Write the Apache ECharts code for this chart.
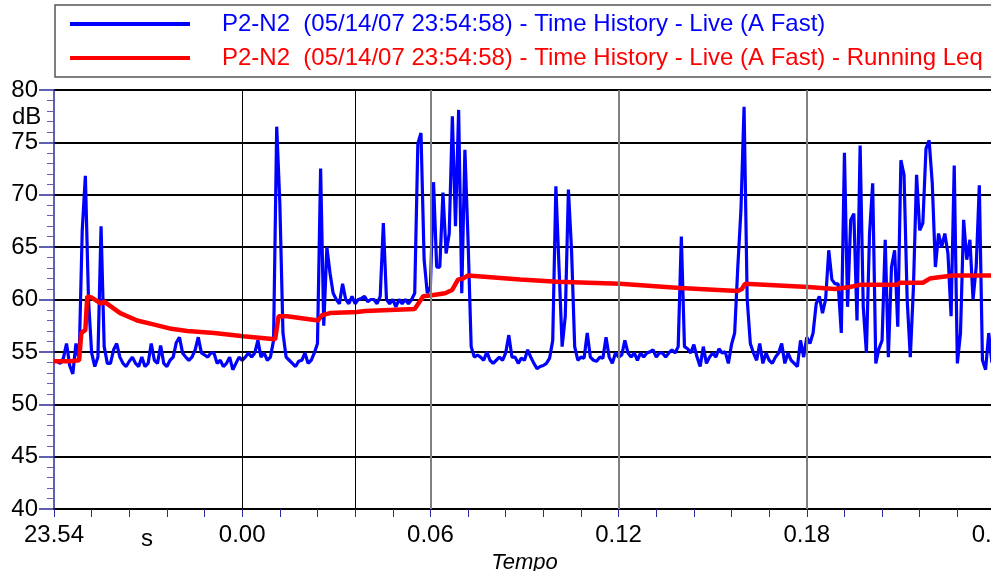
<!DOCTYPE html>
<html><head><meta charset="utf-8">
<script src="https://cdn.jsdelivr.net/npm/echarts@6/dist/echarts.min.js"></script>
<style>html,body{margin:0;padding:0;background:#fff}#c{width:991px;height:571px}</style>
</head><body><div id="c"></div>
<script>
const seriesNames = [
  'P2-N2  (05/14/07 23:54:58) - Time History - Live (A Fast)',
  'P2-N2  (05/14/07 23:54:58) - Time History - Live (A Fast) - Running Leq'
];
// Time axis is kept in milliseconds (labels shown in seconds)
// Live (A Fast) level, one sample every 1 ms starting at -60 ms
const sampleStartMs = -60;
const sampleStepMs = 1;
const liveLevels = [
  54.2, 54.1, 53.9, 54.4, 55.8, 53.7, 52.9, 55.8, 54.2, 66.6,
  71.8, 60.0, 54.9, 53.6, 54.5, 67.0, 55.5, 53.9, 53.9, 55.2,
  55.8, 54.5, 53.9, 53.6, 54.1, 54.5, 53.9, 53.6, 54.5, 53.6,
  53.9, 55.8, 54.2, 53.9, 55.6, 53.9, 53.6, 54.2, 54.5, 55.9,
  56.4, 54.9, 54.5, 54.2, 54.5, 55.2, 56.4, 54.9, 54.7, 54.5,
  54.9, 54.9, 53.9, 54.2, 53.6, 53.9, 54.5, 53.3, 53.9, 54.5,
  54.2, 54.5, 54.9, 54.5, 54.9, 56.1, 54.5, 54.9, 54.2, 54.5,
  56.1, 76.5, 69.2, 56.8, 54.5, 54.2, 53.9, 53.6, 54.1, 54.2,
  54.9, 53.9, 54.2, 54.9, 55.8, 72.5, 57.5, 65.0, 62.5, 60.6,
  60.0, 59.6, 61.5, 60.0, 59.6, 60.3, 59.6, 60.0, 60.1, 60.3,
  59.8, 60.0, 60.0, 59.6, 60.3, 67.3, 60.0, 59.6, 60.0, 59.3,
  60.0, 59.6, 60.0, 59.6, 60.0, 60.6, 74.9, 75.9, 63.8, 60.6,
  61.2, 71.2, 63.1, 63.1, 70.2, 64.4, 66.3, 77.5, 67.0, 78.1,
  60.6, 74.3, 65.7, 55.5, 54.5, 54.7, 54.5, 54.2, 55.0, 54.2,
  53.9, 54.2, 54.5, 54.2, 54.9, 56.6, 54.5, 54.5, 53.9, 54.4,
  54.2, 55.2, 54.5, 53.9, 53.4, 53.6, 53.7, 53.9, 54.4, 56.1,
  70.8, 63.1, 55.5, 58.4, 70.5, 64.7, 55.5, 54.2, 54.5, 54.4,
  56.8, 54.5, 54.2, 54.1, 54.5, 54.4, 56.4, 54.5, 53.9, 54.9,
  54.5, 54.7, 56.1, 54.9, 54.5, 54.9, 54.2, 54.9, 54.5, 54.9,
  55.0, 55.2, 54.5, 54.9, 54.9, 54.5, 54.9, 55.2, 54.9, 55.5,
  66.0, 55.5, 55.3, 54.9, 55.7, 54.5, 53.6, 55.5, 53.9, 54.5,
  54.9, 54.5, 55.3, 54.9, 55.0, 53.9, 55.7, 56.8, 63.1, 68.5,
  78.4, 60.0, 55.8, 54.9, 54.2, 55.8, 53.9, 54.9, 54.2, 53.9,
  54.5, 54.9, 55.8, 53.9, 54.9, 54.2, 53.9, 53.6, 56.1, 54.5,
  56.4, 55.8, 56.8, 59.6, 60.3, 58.7, 60.0, 64.7, 61.9, 61.5,
  61.5, 56.8, 74.0, 59.3, 67.6, 68.2, 58.0, 74.7, 59.3, 54.9,
  66.3, 71.1, 53.9, 55.3, 56.1, 65.7, 54.5, 63.1, 64.7, 57.4,
  73.3, 71.9, 60.0, 54.5, 61.2, 71.9, 66.6, 67.3, 74.4, 75.2,
  71.1, 63.1, 66.3, 65.0, 66.3, 64.4, 58.4, 72.8, 53.9, 56.8,
  67.6, 63.8, 65.7, 60.0, 63.1, 70.9, 54.2, 53.3, 56.8, 54.0,
  54.0
];
// Running Leq breakpoints (ms, dB)
const leqTimesMs = [
  -60, -54.8, -52, -51.3, -50, -49.4, -48.1, -45, -44, -38.9,
  -33.5, -28, -22.6, -17.5, -8.9, 0.3, 10.5, 11.6, 14.3, 24.2,
  25.4, 28.0, 36.6, 39.2, 55, 56.1, 57.7, 60.5, 64.7, 66.9,
  68.8, 70.4, 72, 88.6, 100.4, 120.4, 139.6, 158, 159.3, 160.3,
  180.4, 189, 193.7, 196.9, 208.7, 209.7, 217, 219.2, 221.5, 226.6, 240
];
const leqLevels = [
  54.1, 54.1, 54.2, 56.8, 57.1, 60.3, 60.2, 59.6, 59.8, 58.7,
  58.0, 57.6, 57.2, 57.0, 56.8, 56.5, 56.2, 58.4, 58.4, 58.0,
  58.5, 58.7, 58.8, 58.9, 59.1, 59.6, 60.3, 60.4, 60.6, 60.9,
  61.9, 62.0, 62.3, 61.9, 61.7, 61.5, 61.1, 60.8, 61.0, 61.5,
  61.2, 61.0, 61.2, 61.4, 61.4, 61.6, 61.6, 62.0, 62.1, 62.3, 62.3
];
const xTickLabels = { '-60': '23.54', '0': '0.00', '60': '0.06', '120': '0.12', '180': '0.18', '240': '0.24' };
const cursorTimesMs = [0, 36];
const divisionTimesMs = [60, 120, 180];

const FONT = 'Liberation Sans, Arial, sans-serif';
const AXIS_BLUE = '#2b2b9c';

const liveData = liveLevels.map((v, i) => [sampleStartMs + i * sampleStepMs, v]);
const leqData = leqTimesMs.map((t, i) => [t, leqLevels[i]]);

const chart = echarts.init(document.getElementById('c'), null, { renderer: 'canvas' });
chart.setOption({
  animation: false,
  backgroundColor: '#fff',
  textStyle: { fontFamily: FONT },
  legend: {
    left: 55, top: 5, orient: 'vertical',
    padding: [7, 80, 7, 15],
    itemGap: 10,
    itemWidth: 120, itemHeight: 4,
    icon: 'rect',
    backgroundColor: '#fff',
    borderColor: '#555', borderWidth: 1.5,
    selectedMode: false,
    textStyle: { fontSize: 24, fontFamily: FONT, padding: [0, 0, 0, 27] },
    data: [
      { name: seriesNames[0], textStyle: { color: '#0000ff' } },
      { name: seriesNames[1], textStyle: { color: '#ff0000' } }
    ]
  },
  grid: { left: 54, right: -4, top: 90, bottom: 62, containLabel: false, outerBoundsMode: 'none' },
  xAxis: {
    type: 'value', min: -60, max: 240, interval: 12,
    name: 'Tempo', nameLocation: 'middle', nameGap: 40,
    nameTextStyle: { fontSize: 22, fontStyle: 'italic', color: '#000', fontFamily: FONT },
    axisLine: { show: true, onZero: false, lineStyle: { color: '#000', width: 2 } },
    axisTick: { show: true, length: 8, lineStyle: { color: AXIS_BLUE, width: 1 } },
    axisLabel: {
      show: true, margin: 14, fontSize: 24, color: '#000', fontFamily: FONT,
      showMinLabel: true, showMaxLabel: true, hideOverlap: false,
      formatter: v => { const k = String(Math.round(v)); return xTickLabels[k] !== undefined ? xTickLabels[k] : ''; }
    },
    splitLine: { show: false }
  },
  yAxis: {
    type: 'value', min: 40, max: 80, interval: 5,
    axisLine: { show: true, onZero: false, lineStyle: { color: AXIS_BLUE, width: 1.5 } },
    axisTick: { show: true, length: 15, lineStyle: { color: AXIS_BLUE, width: 1.5 } },
    minorTick: { show: true, splitNumber: 5, length: 7, lineStyle: { color: '#6060b0', width: 1 } },
    axisLabel: { margin: 16, fontSize: 24, color: '#000', fontFamily: FONT },
    splitLine: { show: true, lineStyle: { color: '#000', width: 2 } }
  },
  graphic: [
    { type: 'text', left: 12, top: 105, style: { text: 'dB', fontSize: 24, fill: '#000', fontFamily: FONT } },
    { type: 'text', left: 141, top: 527, style: { text: 's', fontSize: 24, fill: '#000', fontFamily: FONT } }
  ],
  series: [
    {
      type: 'line', name: '_grid', data: [], z: 1, silent: true, legendHoverLink: false,
      markLine: {
        silent: true, symbol: ['none', 'none'], label: { show: false }, animation: false, precision: 3,
        data: cursorTimesMs.map(t => ({ xAxis: t, lineStyle: { color: '#000', width: 1, type: 'solid' } }))
          .concat(divisionTimesMs.map(t => ({ xAxis: t, lineStyle: { color: '#808080', width: 2, type: 'solid' } })))
      }
    },
    {
      type: 'line', name: seriesNames[0], data: liveData, z: 3,
      showSymbol: false, symbol: 'none',
      lineStyle: { color: '#0000ff', width: 3.2 }, itemStyle: { color: '#0000ff' }
    },
    {
      type: 'line', name: seriesNames[1], data: leqData, z: 4,
      showSymbol: false, symbol: 'none',
      lineStyle: { color: '#ff0000', width: 4.5 }, itemStyle: { color: '#ff0000' }
    }
  ]
});
</script></body></html>
